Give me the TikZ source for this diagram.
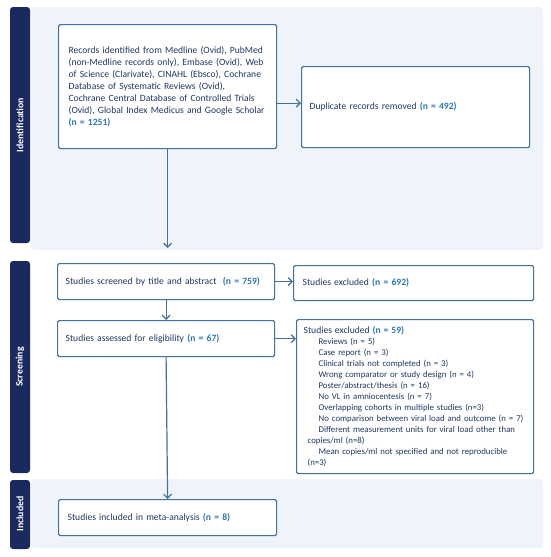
\documentclass[tikz,border=0pt]{standalone}
\usepackage{fontspec}
\setmainfont{Carlito}
\usetikzlibrary{arrows.meta}
\definecolor{navy}{HTML}{1F3864}
\definecolor{nblue}{HTML}{2E75B6}
\definecolor{bord}{HTML}{41719C}
\definecolor{side}{HTML}{1B2A5E}
\definecolor{lightbg}{HTML}{EEF4F9}
\newcommand{\nval}[1]{\textcolor{nblue}{\textbf{#1}}}
\begin{document}
\begin{tikzpicture}[x=1pt,y=-1pt,
  box/.style={draw=bord, line width=1.2pt, rounded corners=1.5pt, fill=white,
    anchor=north west, align=left, inner ysep=0pt, text=navy,
    font=\fontsize{9.6}{12}\selectfont},
  sidebar/.style={fill=side, rounded corners=3pt},
  sidelabel/.style={rotate=90, text=white, font=\fontsize{9.8}{12}\selectfont\bfseries},
  bgpanel/.style={fill=lightbg, rounded corners=4pt},
  arr/.style={draw=bord, line width=1.2pt, -{Straight Barb[length=4pt,width=8pt,line width=1.2pt]}}]
\useasboundingbox (0,0) rectangle (550,557);
\fill[white] (0,0) rectangle (550,557);
% panels
\fill[bgpanel] (31,7) rectangle (543,250);
\fill[bgpanel] (31,479) rectangle (543,548);
\fill[sidebar] (10,7) rectangle (30,243);
\fill[sidebar] (10,261) rectangle (30,473);
\fill[sidebar] (10,480) rectangle (30,549);
\node[sidelabel] (lid) at (20,125) {Identification};
\node[sidelabel] (lsc) at (20,367) {Screening};
\node[sidelabel] (lin) at (20,514) {Included};
% boxes
\node[box, inner xsep=10pt, text width=198pt, minimum height=124pt,
  font=\fontsize{9.6}{12.1}\selectfont] (rec) at (58,24)
 {\mbox{Records identified from Medline (Ovid), PubMed}\\
 \mbox{(non-Medline records only), Embase (Ovid), Web}\\
 \mbox{of Science (Clarivate), CINAHL (Ebsco), Cochrane}\\
 Database of Systematic Reviews (Ovid),\\
 \mbox{Cochrane Central Database of Controlled Trials}\\
 \mbox{(Ovid), Global Index Medicus and Google Scholar}\\
 \nval{(n = 1251)}};
\node[box, inner xsep=8pt, text width=212pt, minimum height=81pt] (dup) at (301,66)
 {Duplicate records removed \nval{(n = 492)}};
\node[box, inner xsep=8pt, text width=201pt, minimum height=36pt] (scr) at (57,263)
 {Studies screened by title and abstract\ \ \nval{(n = 759)}};
\node[box, inner xsep=9pt, text width=222pt, minimum height=35pt] (ex1) at (293,265)
 {Studies excluded \nval{(n = 692)}};
\node[box, inner xsep=8pt, text width=201pt, minimum height=36pt] (eli) at (57,320)
 {Studies assessed for eligibility \nval{(n = 67)}};
\node[box, inner xsep=7pt, text width=223pt, minimum height=154pt,
  font=\fontsize{8.8}{11}\selectfont] (ex2) at (296,319)
 {{\fontsize{9.6}{11}\selectfont Studies excluded \nval{(n = 59)}}\\
 \hspace*{15pt}Reviews (n = 5)\\
 \hspace*{15pt}Case report (n = 3)\\
 \hspace*{15pt}Clinical trials not completed (n = 3)\\
 \hspace*{15pt}Wrong comparator or study design (n = 4)\\
 \hspace*{15pt}Poster/abstract/thesis (n = 16)\\
 \hspace*{15pt}No VL in amniocentesis (n = 7)\\
 \hspace*{15pt}Overlapping cohorts in multiple studies (n=3)\\
 \hspace*{15pt}\mbox{No comparison between viral load and outcome (n = 7)}\\
 \hspace*{15pt}\mbox{Different measurement units for viral load other than}\\
 \hspace*{4pt}copies/ml (n=8)\\
 \hspace*{15pt}\mbox{Mean copies/ml not specified and not reproducible}\\
 \hspace*{4pt}(n=3)};
\node[box, inner xsep=9pt, text width=200pt, minimum height=36pt] (inc) at (58,499)
 {Studies included in meta-analysis \nval{(n = 8)}};
% connectors
\coordinate (idend) at (rec.south |- 0,248);
\draw[arr] (rec.south) -- (idend);
\coordinate (dupin) at ([yshift=4pt]dup.west);
\draw[arr] (rec.east |- dupin) -- (dupin);
\draw[arr] (scr.east) -- (scr.east -| ex1.west);
\draw[arr] (scr.south) -- (eli.north);
\draw[arr] (eli.east) -- (eli.east -| ex2.west);
\draw[arr] (eli.south) -- (inc.north);
\end{tikzpicture}
\end{document}
